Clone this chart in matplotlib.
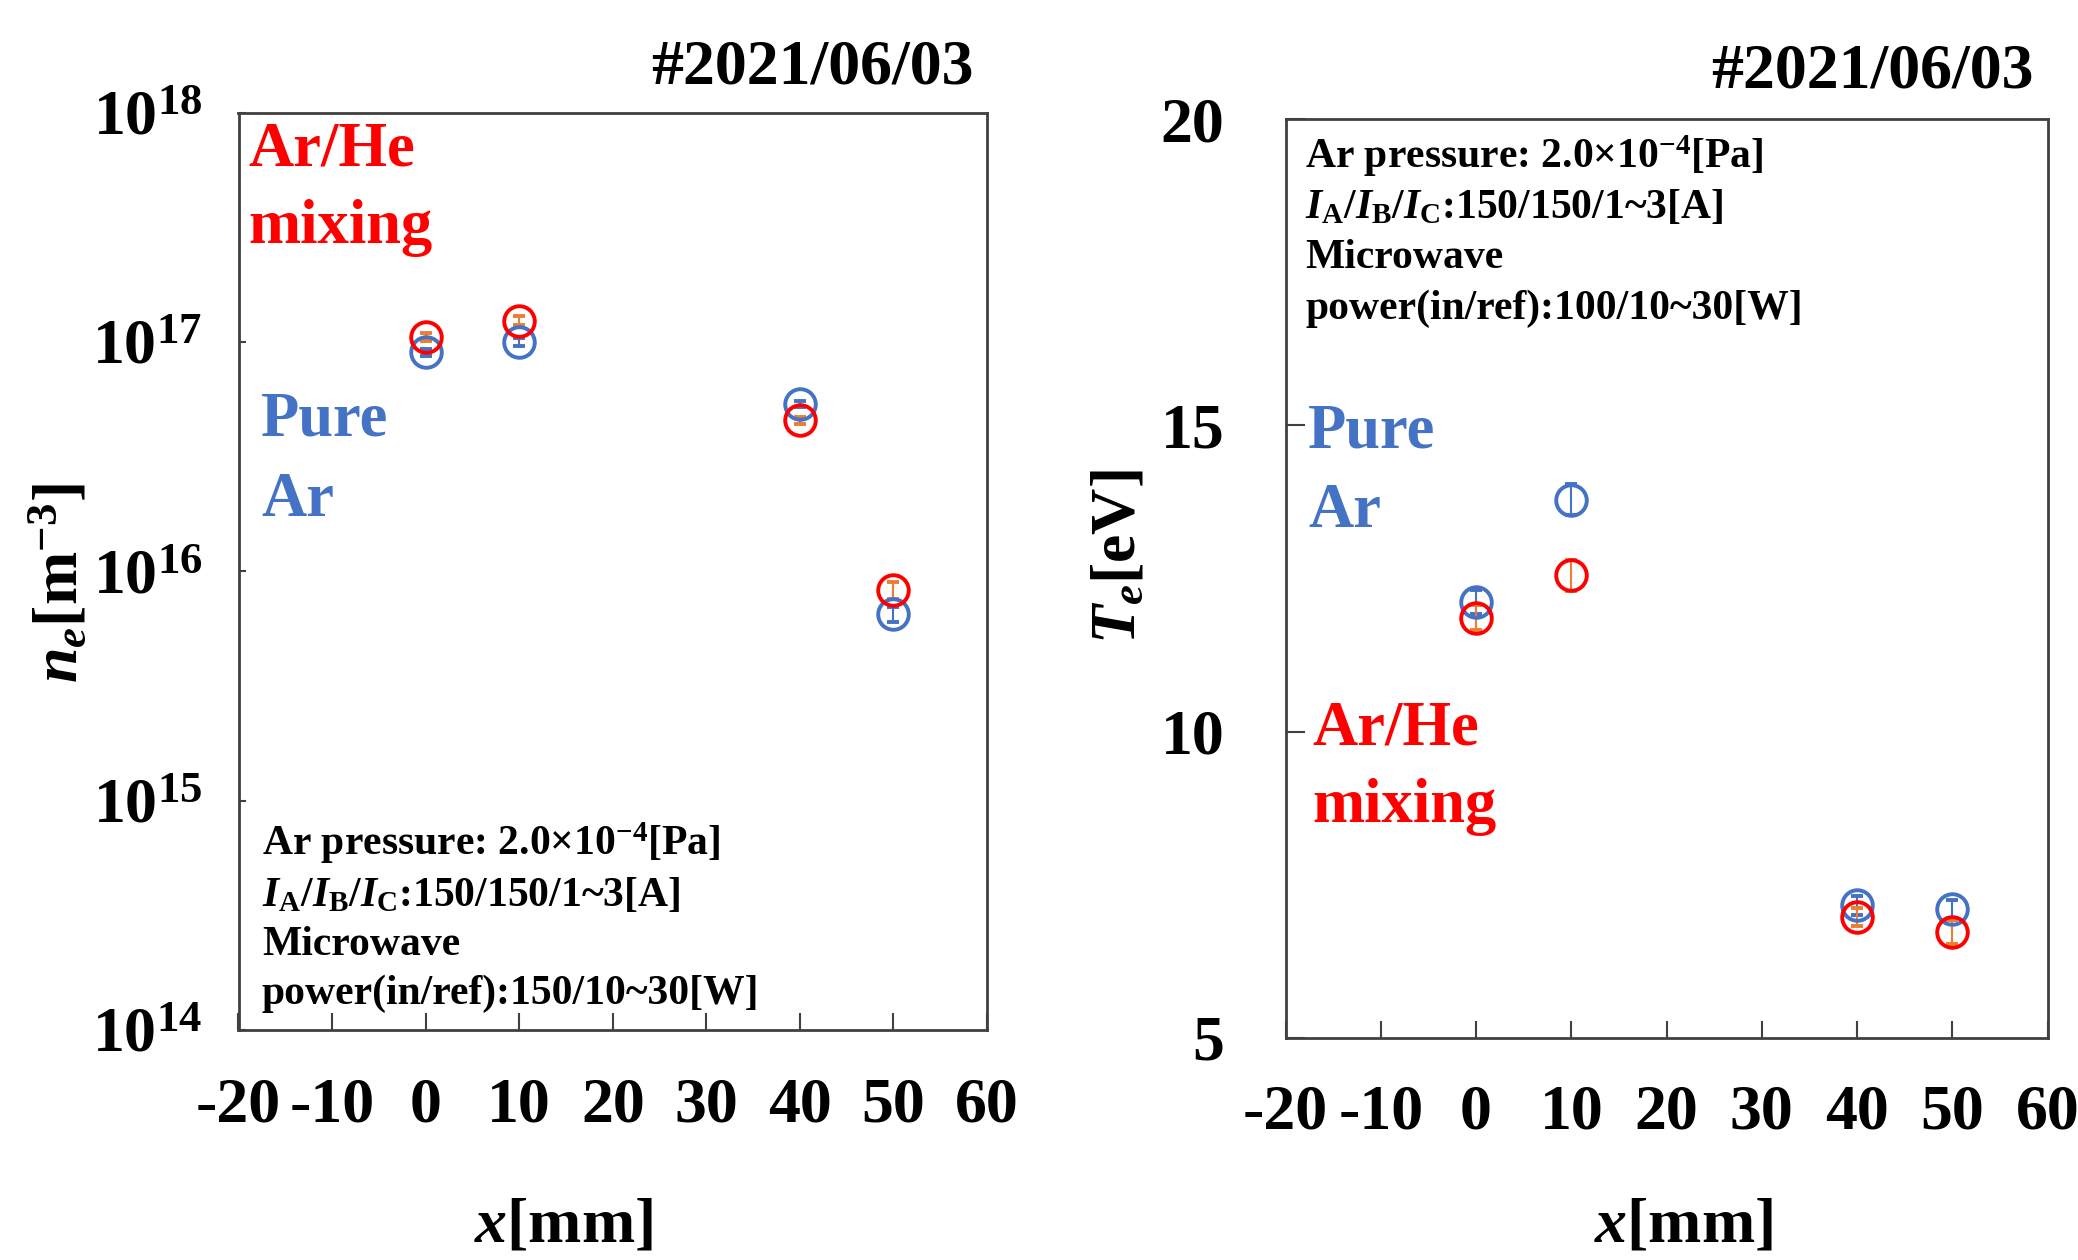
import math
import matplotlib.pyplot as plt
from matplotlib.ticker import FuncFormatter, FixedLocator

plt.rcParams['font.family'] = 'Liberation Serif'
plt.rcParams['font.weight'] = 'bold'
plt.rcParams['axes.unicode_minus'] = False
plt.rcParams['mathtext.fontset'] = 'custom'
plt.rcParams['mathtext.rm'] = 'Liberation Serif:bold'
plt.rcParams['mathtext.it'] = 'Liberation Serif:bold:italic'
plt.rcParams['mathtext.bf'] = 'Liberation Serif:bold'

# positions [mm]
x_pos = [0, 10, 40, 50]

# electron density [m^-3]
ne_arhe = [1.05e17, 1.24e17, 4.55e16, 8.3e15]
ne_arhe_err = [0.04e17, 0.06e17, 0.15e16, 0.7e15]
ne_ar = [9.0e16, 1.0e17, 5.35e16, 6.5e15]
ne_ar_err = [0.3e16, 0.4e16, 0.15e16, 0.5e15]

# electron temperature [eV]
te_arhe = [11.86, 12.55, 6.97, 6.73]
te_arhe_err = [0.2, 0.25, 0.15, 0.2]
te_ar = [12.12, 13.79, 7.16, 7.10]
te_ar_err = [0.2, 0.25, 0.15, 0.15]

xticks = [-20, -10, 0, 10, 20, 30, 40, 50, 60]
red = '#FF0000'
blue = '#4472C4'
orange = '#ED7D31'

fig = plt.figure(figsize=(20.78, 12.6), dpi=100)
W, H = 2078, 1260


def box(l, t, r, b):
    return [l / W, 1 - b / H, (r - l) / W, (b - t) / H]


def style(ax):
    for s in ax.spines.values():
        s.set_color('#404040')
        s.set_linewidth(2)
    ax.set_xlim(-20, 60)
    ax.xaxis.set_major_locator(FixedLocator(xticks))
    ax.tick_params(axis='x', direction='in', length=12, width=1.5,
                   pad=34, labelsize=46, colors='#404040', labelcolor='black')


def series(ax, y, yerr, mec, ec):
    ax.errorbar(x_pos, y, yerr=yerr, fmt='o', mfc='none', mec=mec, ms=22,
                mew=2.8, ecolor=ec, elinewidth=1.5, capsize=4, capthick=1.5)


# ---- left: density
ax1 = fig.add_axes(box(238.5, 112.6, 987, 1030))
style(ax1)
ax1.set_yscale('log')
ax1.set_ylim(1e14, 1e18)
ax1.yaxis.set_major_locator(FixedLocator([1e14, 1e15, 1e16, 1e17, 1e18]))
ax1.yaxis.set_minor_locator(FixedLocator([]))
ax1.yaxis.set_major_formatter(FuncFormatter(
    lambda v, p: r'$10^{%d}$' % round(math.log10(v))))
ax1.tick_params(axis='y', direction='in', length=5, width=1.5, pad=26,
                labelsize=46, colors='#404040', labelcolor='black')
series(ax1, ne_ar, ne_ar_err, blue, blue)
series(ax1, ne_arhe, ne_arhe_err, red, orange)

fig.text(974 / W, 1 - 68 / H, '#2021/06/03', fontsize=46, ha='right', va='center')
fig.text(248 / W, 1 - 150 / H, 'Ar/He', fontsize=45, color=red, va='center')
fig.text(248 / W, 1 - 228 / H, 'mixing', fontsize=45, color=red, va='center')
fig.text(261 / W, 1 - 421 / H, 'Pure', fontsize=45, color=blue, va='center')
fig.text(261 / W, 1 - 501 / H, 'Ar', fontsize=45, color=blue, va='center')
info_l = ['Ar pressure: 2.0×10$^{-4}$[Pa]',
          r'$I_{\mathrm{A}}/I_{\mathrm{B}}/I_{\mathrm{C}}$:150/150/1~3[A]',
          'Microwave',
          'power(in/ref):150/10~30[W]']
for txt, yy in zip(info_l, [843, 896, 945, 994]):
    fig.text(262 / W, 1 - yy / H, txt, fontsize=30, va='center')
fig.text(60 / W, 1 - 583 / H, r'$n_e$[m$^{-3}$]', fontsize=46, rotation=90,
         ha='center', va='center')
fig.text(563 / W, 1 - 1226 / H, r'$x$[mm]', fontsize=46, ha='center', va='center')

# ---- right: temperature
ax2 = fig.add_axes(box(1285.5, 119.3, 2047.6, 1037.7))
style(ax2)
ax2.set_ylim(5, 20)
ax2.yaxis.set_major_locator(FixedLocator([5, 10, 15, 20]))
ax2.tick_params(axis='y', direction='in', length=14, width=1.5, pad=44,
                labelsize=46, colors='#404040', labelcolor='black')
series(ax2, te_ar, te_ar_err, blue, blue)
series(ax2, te_arhe, te_arhe_err, red, orange)

fig.text(2034 / W, 1 - 73 / H, '#2021/06/03', fontsize=46, ha='right', va='center')
info_r = ['Ar pressure: 2.0×10$^{-4}$[Pa]',
          r'$I_{\mathrm{A}}/I_{\mathrm{B}}/I_{\mathrm{C}}$:150/150/1~3[A]',
          'Microwave',
          'power(in/ref):100/10~30[W]']
for txt, yy in zip(info_r, [156, 208, 258, 309]):
    fig.text(1305 / W, 1 - yy / H, txt, fontsize=30, va='center')
fig.text(1308 / W, 1 - 432 / H, 'Pure', fontsize=45, color=blue, va='center')
fig.text(1308 / W, 1 - 512 / H, 'Ar', fontsize=45, color=blue, va='center')
fig.text(1312 / W, 1 - 729 / H, 'Ar/He', fontsize=45, color=red, va='center')
fig.text(1312 / W, 1 - 807 / H, 'mixing', fontsize=45, color=red, va='center')
fig.text(1120 / W, 1 - 557 / H, r'$T_e$[eV]', fontsize=46, rotation=90,
         ha='center', va='center')
fig.text(1683 / W, 1 - 1226 / H, r'$x$[mm]', fontsize=46, ha='center', va='center')

fig.savefig('out.png', dpi=100)
